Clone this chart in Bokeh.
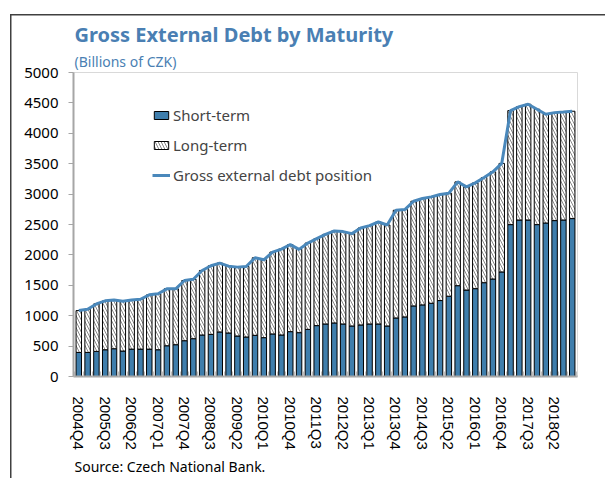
from bokeh.plotting import figure
from bokeh.models import (FixedTicker, Legend, LegendItem, Title, ColumnDataSource)
from bokeh.embed import file_html
from bokeh.resources import INLINE

# ---- data (Billions of CZK), quarterly 2004Q4 .. 2018Q4 ----
total_debt = [1084, 1105, 1194, 1244, 1260, 1238, 1260, 1271, 1343, 1360, 1442, 1442,
              1579, 1600, 1744, 1821, 1865, 1815, 1799, 1810, 1953, 1920, 2046, 2096,
              2168, 2091, 2195, 2267, 2338, 2393, 2383, 2350, 2442, 2481, 2541, 2492,
              2734, 2745, 2883, 2927, 2954, 2993, 3015, 3201, 3119, 3185, 3273, 3366,
              3505, 4373, 4439, 4478, 4396, 4313, 4340, 4351, 4363]
short_term = [396, 396, 413, 440, 457, 419, 451, 451, 451, 440, 506, 523,
              589, 622, 683, 693, 733, 716, 666, 650, 677, 639, 700, 683,
              738, 721, 776, 837, 864, 881, 864, 831, 848, 864, 864, 831,
              963, 980, 1161, 1178, 1205, 1249, 1320, 1494, 1422, 1445, 1543, 1604,
              1720, 2498, 2574, 2574, 2498, 2525, 2564, 2574, 2597]
long_term = [t - s for t, s in zip(total_debt, short_term)]
tick_labels = ["2004Q4", "2005Q3", "2006Q2", "2007Q1", "2007Q4", "2008Q3", "2009Q2",
               "2010Q1", "2010Q4", "2011Q3", "2012Q2", "2013Q1", "2013Q4", "2014Q3",
               "2015Q2", "2016Q1", "2016Q4", "2017Q3", "2018Q2"]
y_ticks = [0, 500, 1000, 1500, 2000, 2500, 3000, 3500, 4000, 4500, 5000]

n = len(total_debt)
xs = list(range(n))
tick_pos = [3 * i for i in range(len(tick_labels))]

src = ColumnDataSource(dict(x=xs, short=short_term, long=long_term, total=total_debt))

BLUE = "#3f7eac"
LINE = "#4a88bb"
TITLE_BLUE = "#4a7fb3"

p = figure(width=605, height=478, x_range=(-0.6, n - 0.4), y_range=(0, 5000),
           output_backend="svg", toolbar_location=None,
           min_border_left=73, min_border_right=28, min_border_top=72, min_border_bottom=102)
p.title.visible = False
# outer box lines (left and top) drawn as host background
p.styles = {
    "background-color": "white",
    "background-image": "linear-gradient(#404040, #404040), linear-gradient(#404040, #404040)",
    "background-size": "1.5px 100%, 100% 1.5px",
    "background-position": "10px 14px, 10px 14px",
    "background-repeat": "no-repeat",
}
p.border_fill_alpha = 0

p.add_layout(Title(text="(Billions of CZK)", text_font="Noto Sans", text_font_size="14px",
                   text_font_style="normal", text_color=TITLE_BLUE, align="left",
                   offset=1, standoff=3), "above")
p.add_layout(Title(text="Gross External Debt by Maturity", text_font="Noto Sans",
                   text_font_size="20px", text_font_style="bold", text_color=TITLE_BLUE,
                   align="left", offset=1, standoff=2), "above")
p.add_layout(Title(text="Source: Czech National Bank.", text_font="Noto Sans",
                   text_font_size="14px", text_font_style="normal", text_color="black",
                   align="left", offset=1, standoff=4), "below")

r = p.vbar_stack(["short", "long"], x="x", width=0.62, source=src,
                 fill_color=[BLUE, "white"], line_color="black", line_width=1,
                 hatch_pattern=[" ", "\\"], hatch_color="#555555", hatch_scale=6,
                 hatch_weight=0.7)
ln = p.line(x="x", y="total", source=src, line_color=LINE, line_width=3)

p.xgrid.visible = False
p.ygrid.visible = False
p.outline_line_color = "#d9d9d9"
p.background_fill_color = "white"

xa = p.xaxis[0]
xa.ticker = FixedTicker(ticks=tick_pos, minor_ticks=[i - 0.5 for i in range(n + 1)])
xa.major_label_overrides = {pos: lab for pos, lab in zip(tick_pos, tick_labels)}
xa.major_label_orientation = "vertical"
xa.major_label_text_font = "Liberation Sans"
xa.major_label_text_font_size = "15px"
xa.major_label_text_color = "black"
xa.major_label_standoff = 14
xa.major_tick_line_color = None
xa.minor_tick_in = 5
xa.minor_tick_out = 0
xa.minor_tick_line_color = "#bfbfbf"
xa.axis_line_color = "#a6a6a6"
xa.axis_line_width = 2

ya = p.yaxis[0]
ya.ticker = FixedTicker(ticks=y_ticks)
ya.minor_tick_line_color = None
ya.major_tick_in = 0
ya.major_tick_out = 5
ya.major_tick_line_color = "#a6a6a6"
ya.axis_line_color = "#a6a6a6"
ya.axis_line_width = 2
ya.major_label_text_font = "Noto Sans"
ya.major_label_text_font_size = "15px"
ya.major_label_text_color = "black"
ya.major_label_standoff = 10

legend = Legend(items=[LegendItem(label="Short-term", renderers=[r[0]]),
                       LegendItem(label="Long-term", renderers=[r[1]]),
                       LegendItem(label="Gross external debt position", renderers=[ln])],
                location=(79, 191), padding=0, spacing=10, label_height=20,
                glyph_width=18, glyph_height=10, label_standoff=3,
                label_text_font="Noto Sans", label_text_font_size="15px",
                border_line_color=None, background_fill_alpha=0)
p.add_layout(legend)

open("out.html", "w").write(file_html(p, INLINE))
